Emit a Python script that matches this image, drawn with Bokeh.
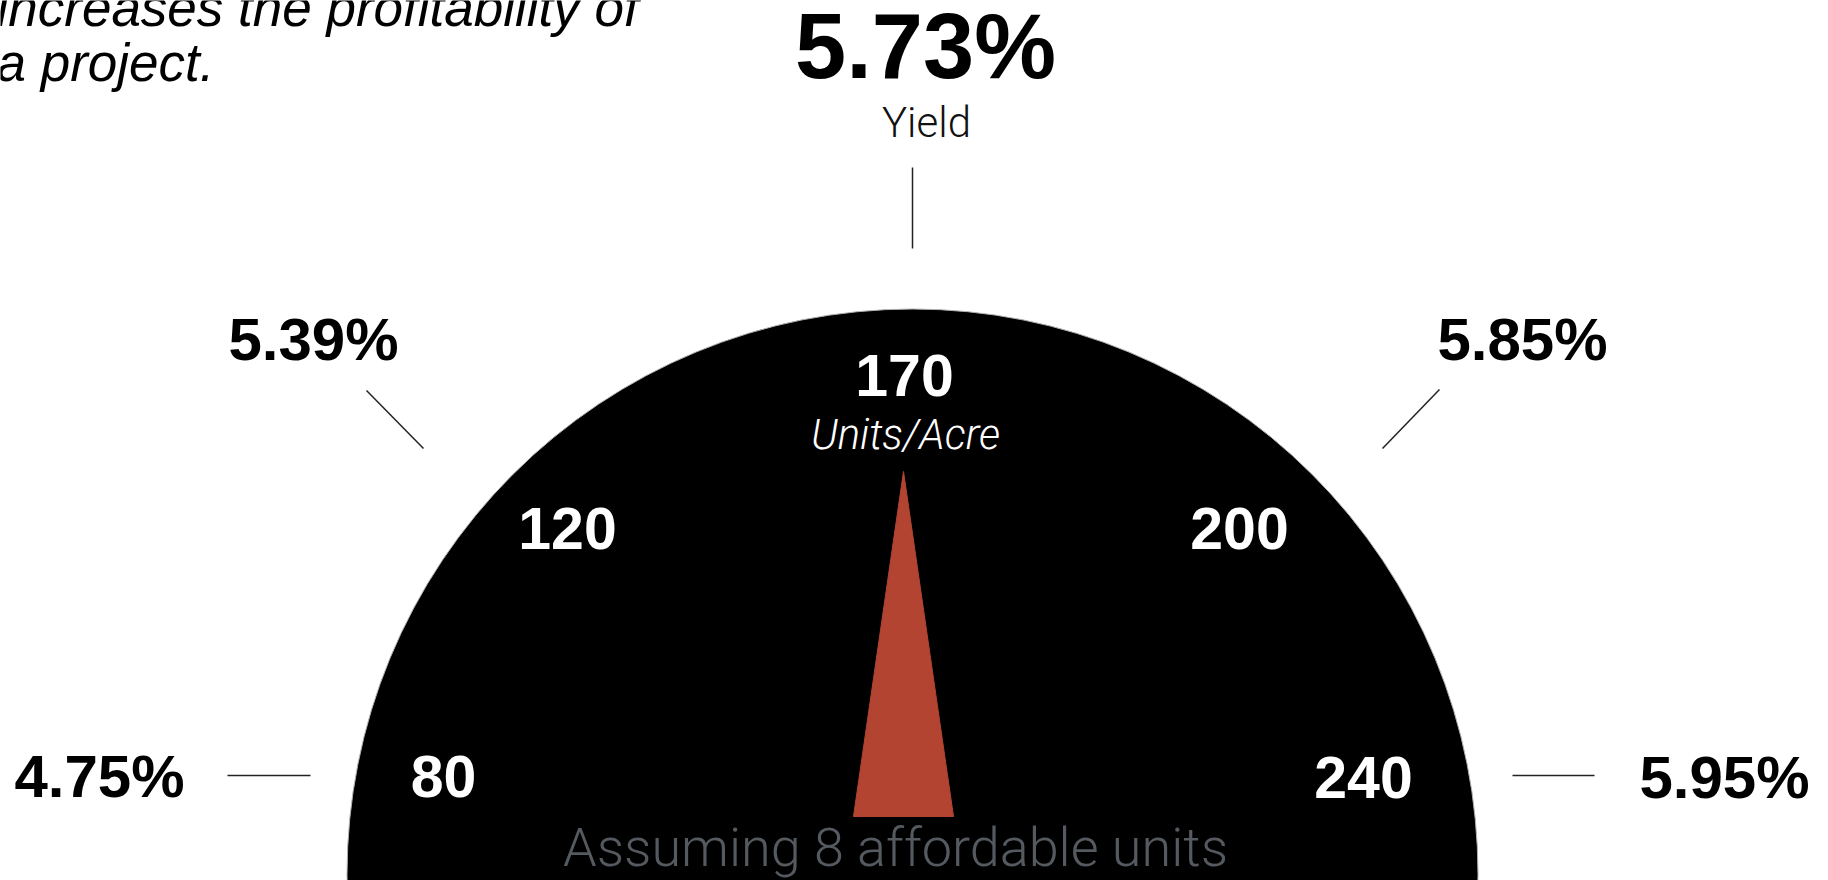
import math
from bokeh.plotting import figure
from bokeh.models import Range1d, ColumnDataSource
from bokeh.core.properties import value
from bokeh.embed import file_html
from bokeh.resources import INLINE

# ---------------- data ----------------
units = [80, 120, 170, 200, 240]                 # gauge tick values (Units/Acre)
yield_pct = [4.75, 5.39, 5.73, 5.85, 5.95]       # yield at each tick
current_units = 170                              # needle value
affordable_units = 8
intro_lines = ["increases the profitability of", "a project."]

# ---------------- layout (pixel space, y downward) ----------------
W, H = 1828, 880
p = figure(width=W, height=H, output_backend="svg", toolbar_location=None,
           x_range=Range1d(0, W), y_range=Range1d(H, 0),
           min_border=0, outline_line_color=None, background_fill_color="white")
p.axis.visible = False
p.grid.visible = False

BOLD = value("Liberation Sans")
LIGHT = value("Roboto Light")
BASE_ADJ = 0.37  # renderer places alphabetic baseline ~0.37em low; compensate


def label(x, y, txt, size, color, font, style="normal", align="center"):
    ys = [yy - BASE_ADJ * size for yy in y]
    p.text(x=x, y=ys, text=txt, text_color=color, text_font=font, text_font_style=style,
           text_font_size=f"{size}px", text_align=align, text_baseline="alphabetic")


# dial
cx, cy, R = 912, 874, 565.5
p.circle(x=[cx], y=[cy], radius=R, fill_color="black", line_color="#b0b0b0", line_width=1)

# needle from data (tick index -> angle, 180deg .. 0deg)
n = len(units)
idx = units.index(current_units)
ang = math.pi - idx * math.pi / (n - 1)
px, py, L, hw = 903, 816, 345, 50
tip = (px + L * math.cos(ang), py - L * math.sin(ang))
bl = (px - hw * math.sin(ang), py - hw * math.cos(ang))
br = (px + hw * math.sin(ang), py + hw * math.cos(ang))
p.patch(x=[bl[0], tip[0], br[0]], y=[bl[1], tip[1], br[1]], fill_color="#b24431", line_color="#b24431")

# inner tick labels (white)
inner_xy = [(443, 798), (567, 550), (904, 397), (1239, 550), (1363, 799)]
label([a for a, b in inner_xy], [b for a, b in inner_xy], [str(u) for u in units],
      59, "white", BOLD, "bold")

label([905], [450], ["Units/Acre"], 42, "white", LIGHT, "italic")

# outer yield labels
outer_xy = [(99, 798), (313, 361), (925, 80), (1522, 361), (1724, 799)]
outer_size = [60, 60, 92, 60, 60]
for (x, y), v, s in zip(outer_xy, yield_pct, outer_size):
    label([x], [y], [f"{v:.2f}%"], s, "black", BOLD, "bold")

label([926], [138], ["Yield"], 42, "#111111", LIGHT)

# connector lines
seg = [((227, 775), (310, 775)), ((366, 390), (423, 448)), ((912, 167), (912, 248)),
       ((1439, 389), (1382, 448)), ((1512, 775), (1594, 775))]
p.segment(x0=[a[0] for a, b in seg], y0=[a[1] for a, b in seg],
          x1=[b[0] for a, b in seg], y1=[b[1] for a, b in seg],
          line_color="#222222", line_width=1.5)

# footnote inside dial
label([895], [867], [f"Assuming {affordable_units} affordable units"], 54, "#555a60", LIGHT)

# intro text (top-left, cut off by the page edge)
label([-4, -4], [27, 82], intro_lines, 53, "black", BOLD, "italic", "left")

open("out.html", "w").write(file_html(p, INLINE))
